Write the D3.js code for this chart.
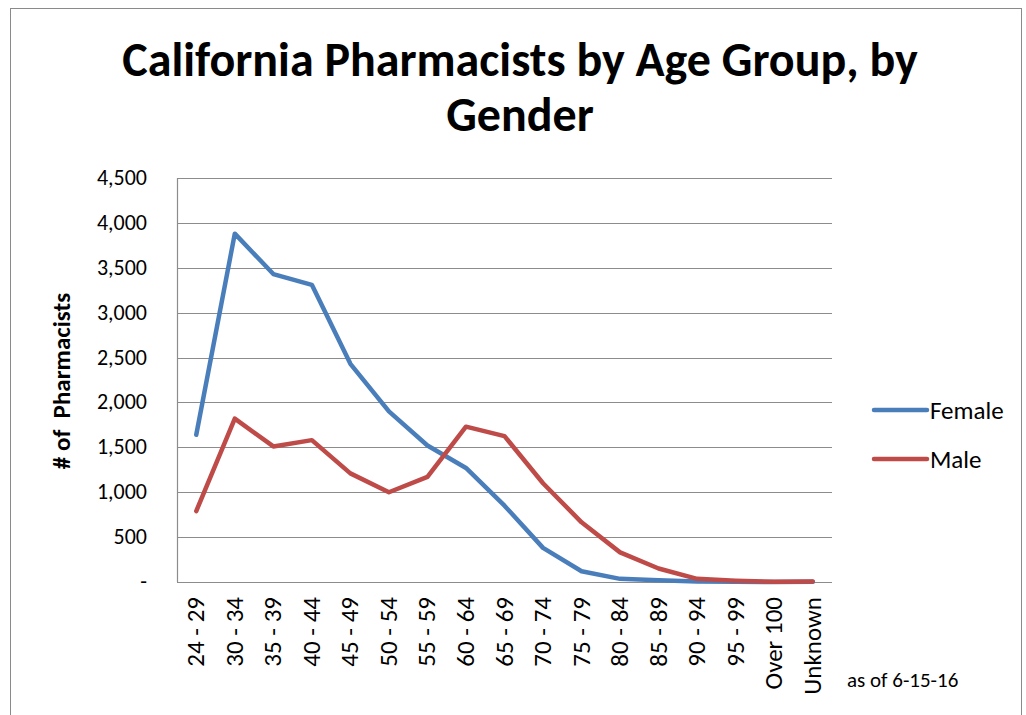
<!DOCTYPE html>
<html>
<head>
<meta charset="utf-8">
<script src="https://cdn.jsdelivr.net/npm/d3@7"></script>
<style>
  body { margin: 0; background: #fff; }
  text { font-family: Carlito, Calibri, Lato, "Open Sans", sans-serif; }
</style>
</head>
<body>
<svg id="chart" width="1026" height="715"></svg>
<script>
var categories = ['24 - 29', '30 - 34', '35 - 39', '40 - 44', '45 - 49', '50 - 54', '55 - 59',
  '60 - 64', '65 - 69', '70 - 74', '75 - 79', '80 - 84', '85 - 89', '90 - 94', '95 - 99',
  'Over 100', 'Unknown'];
var female = [1640, 3880, 3430, 3310, 2430, 1900, 1520, 1270, 850, 380, 120, 35, 20, 5, 2, 0, 2];
var male = [790, 1820, 1510, 1580, 1210, 1000, 1170, 1730, 1625, 1100, 665, 330, 150, 35, 15, 3, 5];
var yTicks = [0, 500, 1000, 1500, 2000, 2500, 3000, 3500, 4000, 4500];
var seriesNames = ['Female', 'Male'];
var colors = ['#4a7ebb', '#be4b48'];

var svg = d3.select('#chart'),
    plotLeft = 177, plotRight = 832, plotTop = 178, plotBottom = 582;

// outer chart border
svg.append('rect').attr('x', 10.5).attr('y', 8.5).attr('width', 1011).attr('height', 720)
  .attr('fill', 'none').attr('stroke', '#8a8a8a').attr('stroke-width', 1);

var x = d3.scalePoint().domain(categories).range([plotLeft, plotRight]).padding(0.5);
var y = d3.scaleLinear().domain([0, 4500]).range([plotBottom, plotTop]);

// gridlines
svg.append('g').selectAll('line').data(yTicks).enter().append('line')
  .attr('x1', plotLeft).attr('x2', plotRight)
  .attr('y1', function(d) { return Math.round(y(d)) + 0.5; })
  .attr('y2', function(d) { return Math.round(y(d)) + 0.5; })
  .attr('stroke', '#8c8c8c').attr('stroke-width', 1.2);

svg.append('line').attr('x1', plotLeft + 0.5).attr('x2', plotLeft + 0.5)
  .attr('y1', plotTop).attr('y2', plotBottom)
  .attr('stroke', '#8c8c8c').attr('stroke-width', 1.2);

// y tick labels
var fmt = d3.format(',');
svg.append('g').selectAll('text').data(yTicks).enter().append('text')
  .attr('x', 147).attr('y', function(d) { return y(d) + 7; })
  .attr('text-anchor', 'end').attr('font-size', 22).attr('fill', '#000')
  .text(function(d) { return d === 0 ? '-' : fmt(d); });

// x labels
svg.append('g').selectAll('text').data(categories).enter().append('text')
  .attr('transform', function(d) { return 'translate(' + (x(d) + 8) + ',597) rotate(-90)'; })
  .attr('text-anchor', 'end').attr('font-size', 25).attr('fill', '#000')
  .text(function(d) { return d; });

// lines
var line = d3.line().x(function(d, i) { return x(categories[i]); }).y(function(d) { return y(d); });
[female, male].forEach(function(s, i) {
  svg.append('path').datum(s).attr('d', line)
    .attr('fill', 'none').attr('stroke', colors[i]).attr('stroke-width', 4.5)
    .attr('stroke-linejoin', 'round').attr('stroke-linecap', 'round');
});

// title
svg.append('text').attr('x', 520).attr('y', 76).attr('text-anchor', 'middle')
  .attr('font-size', 48).attr('font-weight', 'bold').text('California Pharmacists by Age Group, by');
svg.append('text').attr('x', 520).attr('y', 131).attr('text-anchor', 'middle')
  .attr('font-size', 48).attr('font-weight', 'bold').text('Gender');

// y axis title
svg.append('text').attr('transform', 'translate(70,381) rotate(-90)').attr('text-anchor', 'middle')
  .attr('font-size', 25).attr('font-weight', 'bold').attr('xml:space', 'preserve').text('# of  Pharmacists');

// legend
seriesNames.forEach(function(n, i) {
  var ly = 410 + i * 49;
  svg.append('line').attr('x1', 874).attr('x2', 927).attr('y1', ly).attr('y2', ly)
    .attr('stroke', colors[i]).attr('stroke-width', 4.5).attr('stroke-linecap', 'round');
  svg.append('text').attr('x', 930).attr('y', ly + 9).attr('font-size', 25).text(n);
});

svg.append('text').attr('x', 847).attr('y', 687).attr('font-size', 21).text('as of 6-15-16');
</script>
</body>
</html>
